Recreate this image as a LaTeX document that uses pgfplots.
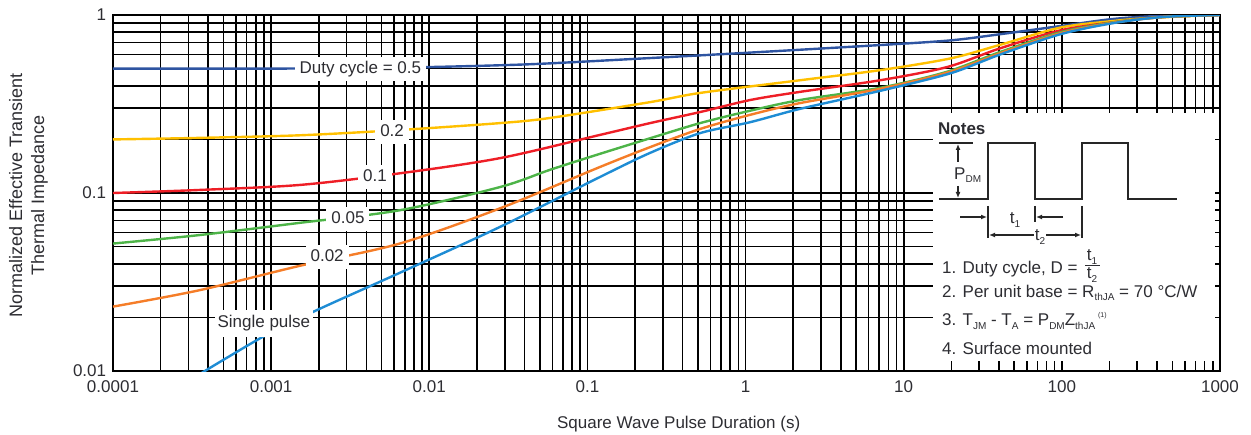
\documentclass[border=0pt]{standalone}
\usepackage{pgfplots}
\pgfplotsset{compat=1.18}
\usepackage{fontspec}
\setmainfont{Liberation Sans}
\usetikzlibrary{arrows.meta}
\definecolor{cA}{RGB}{46,84,161}
\definecolor{cB}{RGB}{255,192,0}
\definecolor{cC}{RGB}{238,30,38}
\definecolor{cD}{RGB}{77,180,72}
\definecolor{cE}{RGB}{245,125,40}
\definecolor{cF}{RGB}{30,140,212}
\definecolor{txt}{RGB}{45,45,50}
\newcommand\sub[1]{\raisebox{-0.35ex}{\fontsize{10}{10}\selectfont #1}}
\newcommand\sups[1]{\raisebox{0.9ex}{\fontsize{7}{7}\selectfont #1}}
\tikzset{lbl/.style={fill=white, inner xsep=5pt, inner ysep=4pt, text height=12.5pt, text depth=3.5pt, text=txt}}
\begin{document}
\fontsize{17}{20.4}\selectfont
\begin{tikzpicture}
\useasboundingbox (-113pt,-63pt) rectangle (1138pt,371pt);
\begin{axis}[
  at={(0pt,0pt)}, anchor=south west,
  scale only axis, width=1107pt, height=356pt,
  xmode=log, ymode=log,
  xmin=1e-4, xmax=1000, ymin=0.01, ymax=1,
  xtick={1e-4,1e-3,0.01,0.1,1,10,100,1000},
  xticklabels={0.0001,0.001,0.01,0.1,1,10,100,1000},
  ytick={0.01,0.1,1},
  yticklabels={0.01,0.1,1},
  minor xtick={2e-4,3e-4,4e-4,5e-4,6e-4,7e-4,8e-4,9e-4,
    2e-3,3e-3,4e-3,5e-3,6e-3,7e-3,8e-3,9e-3,
    0.02,0.03,0.04,0.05,0.06,0.07,0.08,0.09,
    0.2,0.3,0.4,0.5,0.6,0.7,0.8,0.9,
    2,3,4,5,6,7,8,9,20,30,40,50,60,70,80,90,
    200,300,400,500,600,700,800,900},
  minor ytick={0.02,0.03,0.04,0.05,0.06,0.07,0.08,0.09,
    0.2,0.3,0.4,0.5,0.6,0.7,0.8,0.9},
  grid=both,
  major grid style={black, line width=1.6pt},
  minor grid style={black, line width=1.6pt},
  tick style={draw=none},
  axis line style={line width=2.6pt, black},
  tick label style={text=txt},
  xticklabel style={yshift=-3.5pt},
  yticklabel style={xshift=-1pt},
  xlabel={Square Wave Pulse Duration (s)},
  ylabel={Normalized Effective Transient\\Thermal Impedance},
  every axis x label/.style={at={(axis description cs:0.511,-0.149)}, anchor=center, text=txt},
  every axis y label/.style={at={(axis description cs:-0.0763,0.494)}, anchor=center, rotate=90, align=center, text=txt, font=\fontsize{18}{22}\selectfont},
  clip mode=individual,
  every axis plot/.append style={line width=2.4pt, smooth, no markers},
]
% Duty cycle = 0.5
\addplot[cA] coordinates {(1e-4,0.5) (1e-3,0.5) (3.6e-3,0.503) (0.01,0.51) (0.028,0.522) (0.058,0.535) (0.249,0.573) (1.07,0.615) (7.1,0.678) (19.7,0.72) (40.7,0.78) (98,0.867) (211,0.95) (437,0.99) (1000,1.0)};
% 0.2
\addplot[cB] coordinates {(1e-4,0.20) (3.5e-4,0.204) (1.52e-3,0.211) (6.5e-3,0.226) (0.028,0.247) (0.058,0.264) (0.249,0.324) (0.516,0.365) (2.21,0.43) (7.1,0.49) (19.7,0.57) (40.7,0.68) (98,0.85) (211,0.925) (347,0.96) (915,1.0) (1000,1.0)};
% 0.1
\addplot[cC] coordinates {(1e-4,0.100) (3.5e-4,0.104) (1.52e-3,0.111) (6.5e-3,0.129) (0.028,0.157) (0.12,0.212) (0.249,0.247) (0.516,0.285) (1.07,0.333) (2.21,0.37) (7.1,0.43) (18.8,0.51) (40.7,0.65) (98,0.82) (211,0.91) (437,0.975) (1000,1.0)};
% 0.05
\addplot[cD] coordinates {(1e-4,0.052) (3.5e-4,0.058) (1.52e-3,0.068) (6.5e-3,0.080) (0.028,0.108) (0.058,0.135) (0.12,0.166) (0.249,0.203) (0.516,0.247) (1.07,0.29) (2.21,0.333) (7.1,0.39) (18.8,0.48) (40.7,0.62) (98,0.80) (211,0.91) (437,0.975) (1000,1.0)};
% 0.02
\addplot[cE] coordinates {(1e-4,0.023) (3.5e-4,0.0284) (1.52e-3,0.039) (6.5e-3,0.052) (0.028,0.082) (0.12,0.14) (0.249,0.181) (0.516,0.229) (1.07,0.275) (2.21,0.32) (7.1,0.385) (19.7,0.48) (40.7,0.61) (98,0.79) (211,0.905) (437,0.975) (1000,1.0)};
% single pulse
\addplot[cF] coordinates {(3.6e-4,0.0097) (8.9e-4,0.0156) (1.95e-3,0.022) (6.5e-3,0.0356) (0.028,0.0645) (0.12,0.123) (0.249,0.168) (0.516,0.217) (1.07,0.25) (2.21,0.297) (7.1,0.375) (19.7,0.47) (40.7,0.60) (98,0.78) (211,0.9) (437,0.975) (1000,1.0)};
\node[lbl] at (axis cs:3.67e-3,0.5) {Duty cycle = 0.5};
\node[lbl] at (axis cs:5.82e-3,0.22) {0.2};
\node[lbl] at (axis cs:4.54e-3,0.123) {0.1};
\node[lbl] at (axis cs:3.06e-3,0.0714) {0.05};
\node[lbl] at (axis cs:2.26e-3,0.0437) {0.02};
\node[lbl, inner xsep=3pt, inner ysep=5.5pt] at (axis cs:9.0e-4,0.0186) {Single pulse};
\end{axis}
% Notes box (pixel-like coordinates)
\begin{scope}[x=1pt, y=-1pt, shift={(-113pt,371pt)}]
  \fill[white] (933,113) rectangle (1215,361);
  \node[anchor=west, inner sep=0pt, text=txt, font=\fontsize{17}{20}\selectfont\bfseries] at (938,129) {Notes};
  \draw[line width=1.8pt, black!85] (939,143) -- (973,143);
  \draw[line width=1.8pt, black!85] (939,199) -- (988,199) -- (988,143) -- (1035,143) -- (1035,199) -- (1082,199) -- (1082,143) -- (1128,143) -- (1128,199) -- (1177,199);
  \draw[line width=1.2pt, -{Latex[length=6pt,width=5pt]}, black!85] (958,162) -- (958,144);
  \draw[line width=1.2pt, -{Latex[length=6pt,width=5pt]}, black!85] (958,186) -- (958,198);
  \node[anchor=west, inner sep=0pt, text=txt] at (954,175) {P\sub{DM}};
  \draw[line width=1.2pt, black!85] (988,206) -- (988,238);
  \draw[line width=1.2pt, black!85] (1035,206) -- (1035,222);
  \draw[line width=1.2pt, black!85] (1082,206) -- (1082,238);
  \draw[line width=1.2pt, -{Latex[length=6pt,width=5pt]}, black!85] (960,217) -- (987,217);
  \draw[line width=1.2pt, -{Latex[length=6pt,width=5pt]}, black!85] (1063,217) -- (1036,217);
  \node[inner sep=0pt, text=txt] at (1015,220) {t\sub{1}};
  \draw[line width=1.2pt, {Latex[length=6pt,width=5pt]}-{Latex[length=6pt,width=5pt]}, black!85] (989,235) -- (1081,235);
  \node[fill=white, inner sep=1pt, text=txt] at (1040,237) {t\sub{2}};
  \node[anchor=west, inner sep=0pt, text=txt] at (942,269) {1. Duty cycle, D =};
  \node[inner sep=0pt, text=txt] at (1092,257) {t\sub{1}};
  \draw[line width=0.8pt, txt] (1085,265.5) -- (1100,265.5);
  \node[inner sep=0pt, text=txt] at (1092,275) {t\sub{2}};
  \node[anchor=west, inner sep=0pt, text=txt] at (942,293) {2. Per unit base = R\sub{thJA} = 70 °C/W};
  \node[anchor=west, inner sep=0pt, text=txt] at (942,321) {3. T\sub{JM} - T\sub{A} = P\sub{DM}Z\sub{thJA}\,\sups{(1)}};
  \node[anchor=west, inner sep=0pt, text=txt] at (942,348) {4. Surface mounted};
\end{scope}
\end{tikzpicture}
\end{document}
